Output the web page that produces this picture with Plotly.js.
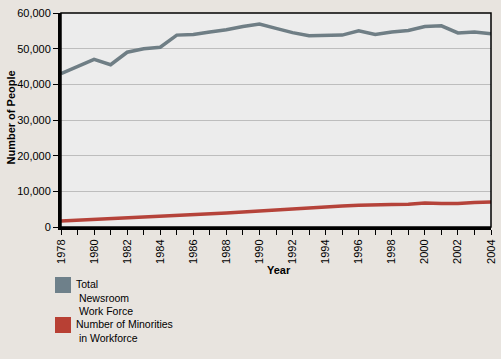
<!DOCTYPE html>
<html><head><meta charset="utf-8">
<script src="https://cdn.plot.ly/plotly-3.0.1.min.js"></script>
<style>html,body{margin:0;padding:0;background:#e8e4df;}#chart{width:501px;height:359px;}</style>
</head><body><div id="chart"></div>
<script>
const years = [1978,1979,1980,1981,1982,1983,1984,1985,1986,1987,1988,1989,1990,1991,1992,1993,1994,1995,1996,1997,1998,1999,2000,2001,2002,2003,2004];
const totalWorkforce = [43000,45000,47000,45500,49000,50000,50400,53800,54000,54700,55300,56200,56900,55700,54500,53600,53700,53800,55000,54000,54700,55100,56200,56400,54400,54700,54200];
const minorities = [1700,1900,2300,2400,2700,2800,2900,3100,3400,3600,3900,4200,4500,4900,5100,5500,5600,5900,6100,6100,6300,6400,6700,6600,6600,6900,7000];
const seriesNames = ['Total<br> Newsroom<br> Work Force', 'Number of Minorities<br> in Workforce'];
const colors = ['#6f7e85', '#b5433a'];
const swatchColors = ['#6e808a', '#b84034'];

// plot-area geometry in pixels (for placing the manual legend)
const L = 61, R = 10, T = 13, B = 132, W = 501, H = 359;
const pw = W - L - R, ph = H - T - B;
const px = v => (v - L) / pw;
const py = v => (H - B - v) / ph;

const traces = [
  {x: years, y: totalWorkforce, mode: 'lines', name: seriesNames[0], line: {color: colors[0], width: 3.5}, hoverinfo: 'skip'},
  {x: years, y: minorities, mode: 'lines', name: seriesNames[1], line: {color: colors[1], width: 3.5}, hoverinfo: 'skip'}
];

const legendTops = [277, 317];
const shapes = [{type: 'rect', xref: 'paper', yref: 'paper', x0: 0, x1: 1, y0: 0, y1: 1, line: {color: '#000', width: 1.5}, layer: 'above'}];
const annotations = [
  {xref: 'paper', yref: 'paper', x: px(279), y: py(270), xanchor: 'center', yanchor: 'middle', text: '<b>Year</b>', showarrow: false, font: {size: 11}},
  {xref: 'paper', yref: 'paper', x: px(10.5), y: py(118), xanchor: 'center', yanchor: 'middle', text: '<b>Number of People</b>', textangle: -90, showarrow: false, font: {size: 11}}
];
seriesNames.forEach((n, i) => {
  shapes.push({type: 'rect', xref: 'paper', yref: 'paper', x0: px(55), x1: px(71), y0: py(legendTops[i]), y1: py(legendTops[i] + 16), fillcolor: swatchColors[i], line: {width: 0}});
  annotations.push({xref: 'paper', yref: 'paper', x: px(74), y: py(legendTops[i] - 1), xanchor: 'left', yanchor: 'top', align: 'left', text: n, showarrow: false, font: {size: 10.5, color: '#000'}});
});

const layout = {
  width: W, height: H,
  margin: {l: L, r: R, t: T, b: B, pad: 0},
  paper_bgcolor: '#e8e4df',
  plot_bgcolor: '#ececec',
  font: {family: 'Liberation Sans, Arial, sans-serif', size: 11, color: '#000'},
  showlegend: false,
  xaxis: {
    range: [1978, 2004], dtick: 2, tick0: 1978, tickangle: -90,
    ticks: 'outside', ticklen: 5, tickcolor: '#000', tickwidth: 1,
    minor: {dtick: 1, ticks: 'outside', ticklen: 5, tickcolor: '#000', showgrid: false},
    showgrid: false, zeroline: false, automargin: false,
    showline: true, linecolor: '#000', linewidth: 3,
    fixedrange: true
  },
  yaxis: {
    range: [0, 60000], dtick: 10000, tickformat: ',d',
    ticks: 'outside', ticklen: 5, tickcolor: '#000', automargin: false,
    showgrid: true, gridcolor: '#bdbdbd', gridwidth: 1, zeroline: false,
    showline: true, linecolor: '#000', linewidth: 3,
    fixedrange: true
  },
  shapes: shapes,
  annotations: annotations
};
Plotly.newPlot('chart', traces, layout, {displayModeBar: false, staticPlot: true});
</script></body></html>
